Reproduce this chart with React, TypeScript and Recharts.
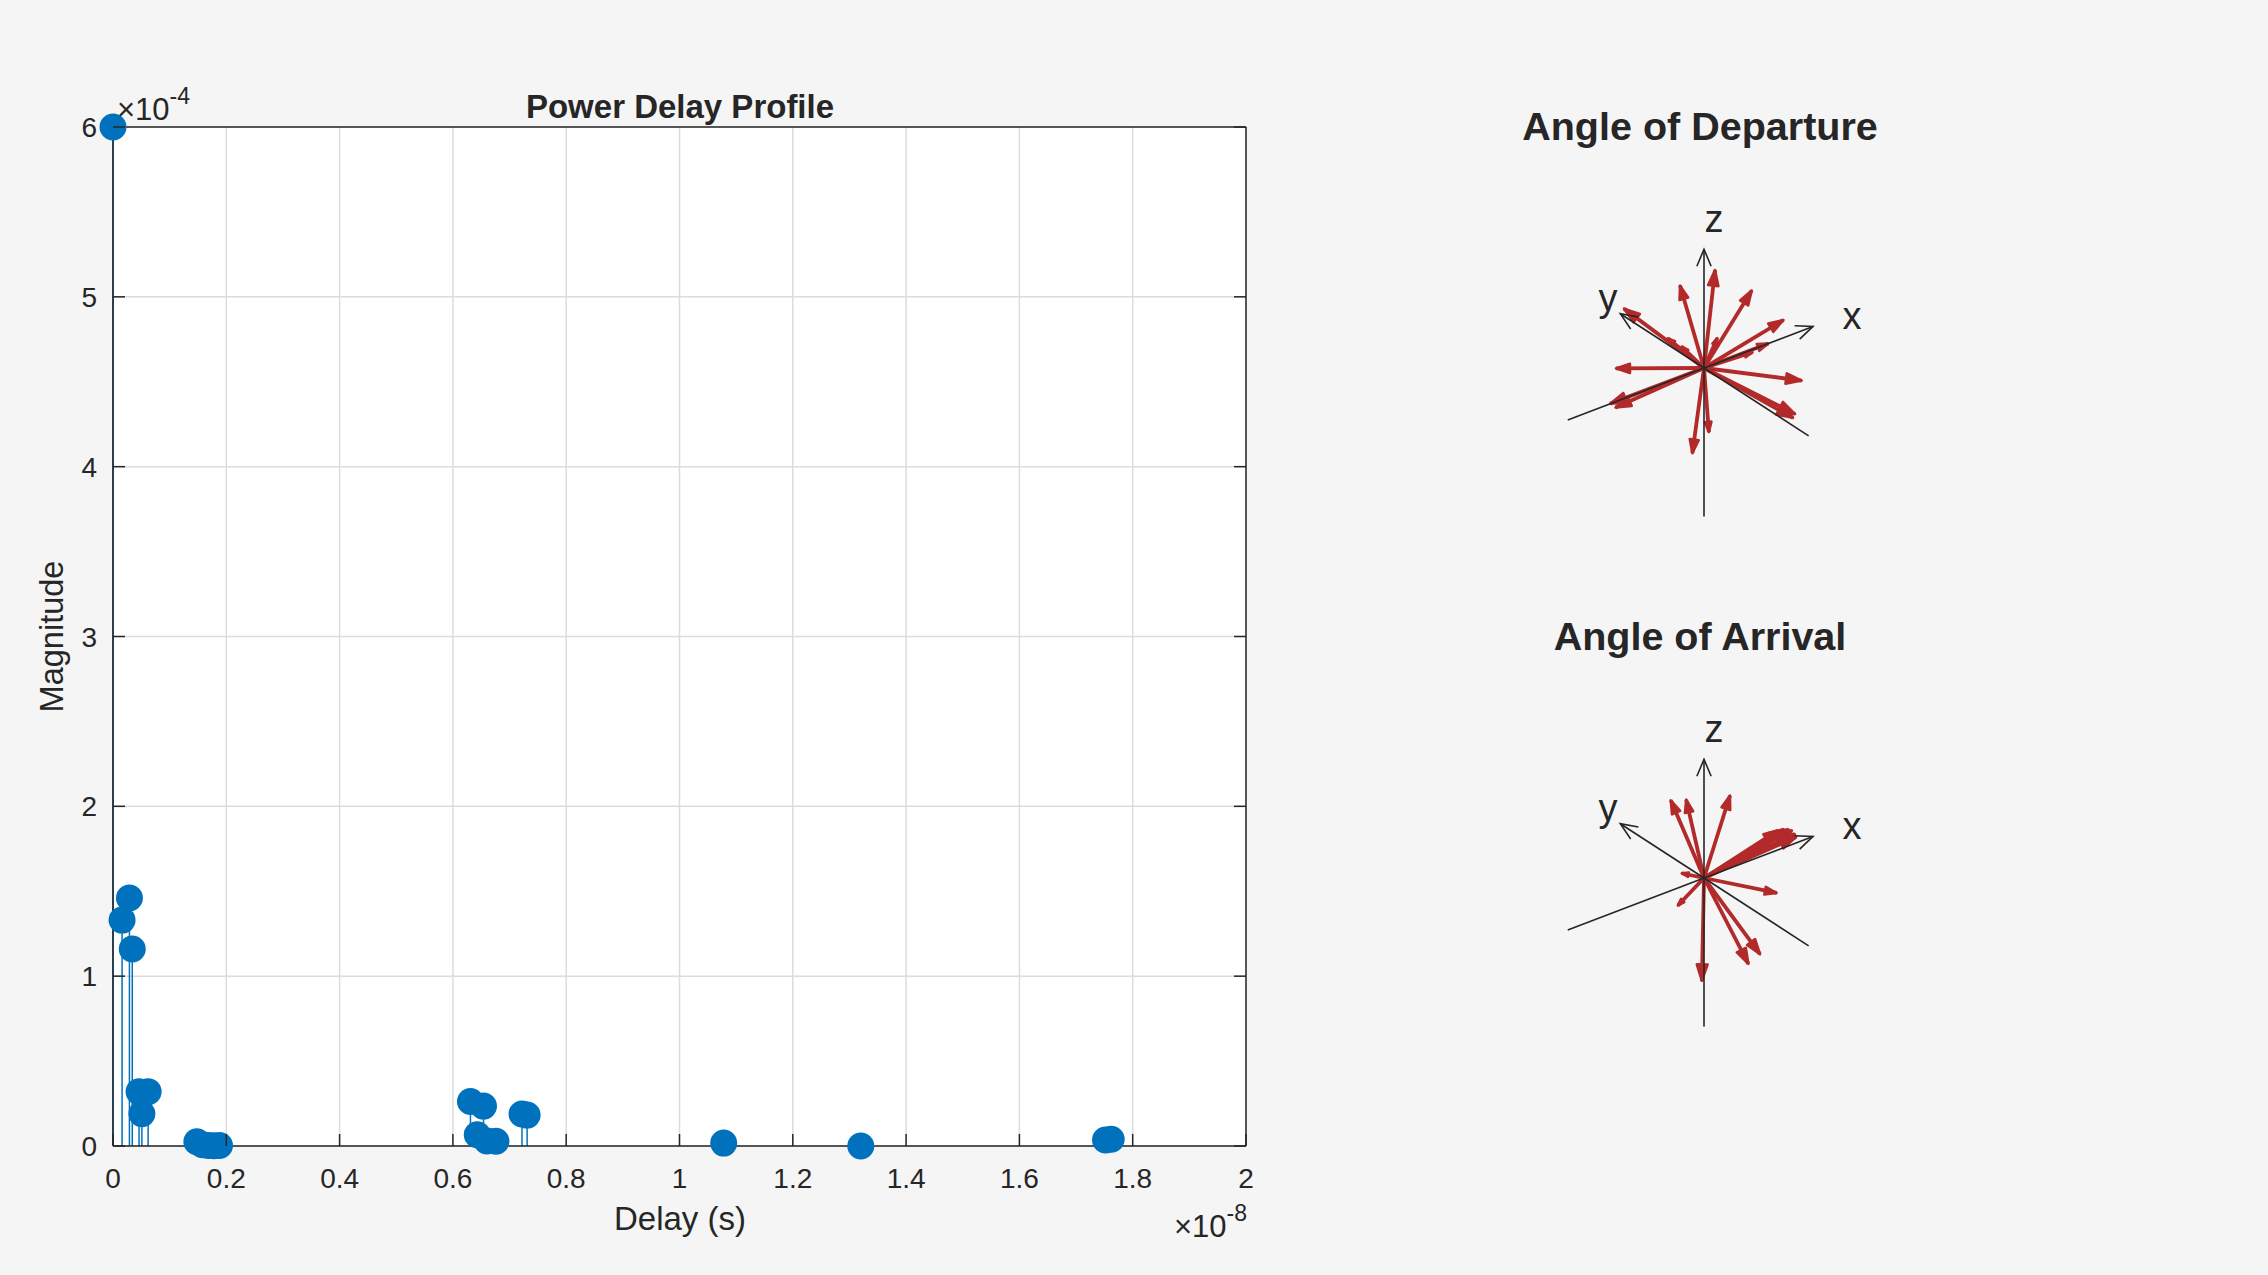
import React from 'react';
import { ComposedChart, Scatter, XAxis, YAxis, CartesianGrid, ReferenceLine } from 'recharts';

const FONT = '"Liberation Sans", Arial, Helvetica, sans-serif';
const INK = '#262626';
const BLUE = '#0072BD';
const RED = '#B32A2A';

// ---- Power delay profile: delay in units of 1e-8 s, magnitude in units of 1e-4 ----
const pdpDelay = [0, 0.016, 0.029, 0.034, 0.046, 0.051, 0.062, 0.148, 0.158, 0.168, 0.178, 0.188,
  0.631, 0.643, 0.654, 0.660, 0.676, 0.722, 0.731, 1.078, 1.320, 1.752, 1.762];
const pdpMagnitude = [6.0, 1.33, 1.46, 1.16, 0.32, 0.19, 0.32, 0.025, 0.008, 0.003, 0.002, 0.003,
  0.262, 0.066, 0.235, 0.030, 0.028, 0.188, 0.182, 0.017, 0.0, 0.035, 0.040];
const delayTicks = [0, 0.2, 0.4, 0.6, 0.8, 1, 1.2, 1.4, 1.6, 1.8, 2];
const magnitudeTicks = [0, 1, 2, 3, 4, 5, 6];

// ---- 3-D view: projection of the unit x, y, z axes onto the screen (right, up) ----
const axisNames = ['x', 'y', 'z'];
const axisBasisU = [0.918, -0.705, 0];
const axisBasisV = [0.350, 0.457, 1.0];
const axisPositiveLength = 1;
const axisNegativeLength = 1.25;
const axisLabelU = [1.246, -0.808, 0.084];
const axisLabelV = [0.330, 0.484, 1.144];

// Angle of departure arrow tips (projected view coordinates)
const aodTipU = [-0.202, 0.093, 0.402, 0.669, 0.112, 0.542, 0.409, 0.823, 0.767, 0.750, 0.041,
  -0.098, -0.742, -0.790, -0.745, -0.674, -0.305, -0.188];
const aodTipV = [0.694, 0.826, 0.652, 0.404, 0.252, 0.206, 0.133, -0.106, -0.388, -0.420, -0.540,
  -0.718, -0.003, -0.300, -0.333, 0.500, 0.250, 0.180];

// Angle of arrival arrow tips (projected view coordinates)
const aoaTipU = [-0.280, -0.150, 0.219, 0.620, 0.670, 0.710, 0.740, 0.765, 0.775, 0.612, -0.188,
  -0.220, -0.018, 0.472, 0.374];
const aoaTipV = [0.655, 0.660, 0.695, 0.400, 0.410, 0.410, 0.400, 0.370, 0.345, -0.126, 0.040,
  -0.232, -0.866, -0.642, -0.723];

const pdpData = pdpDelay.map((d, i) => ({ delay: d, mag: pdpMagnitude[i] }));

function renderBottomTick(p: any) {
  return (
    <g>
      <line x1={p.x} y1={p.y} x2={p.x} y2={p.y - 12} stroke={INK} strokeWidth={1.5} />
      <text x={p.x} y={p.y + 42} textAnchor="middle" fontSize={28} fill={INK} fontFamily={FONT}>
        {String(p.payload.value)}
      </text>
    </g>
  );
}

function renderLeftTick(p: any) {
  return (
    <g>
      <line x1={p.x} y1={p.y} x2={p.x + 12} y2={p.y} stroke={INK} strokeWidth={1.5} />
      <text x={p.x - 16} y={p.y + 10} textAnchor="end" fontSize={28} fill={INK} fontFamily={FONT}>
        {String(p.payload.value)}
      </text>
    </g>
  );
}

const emptyTick = () => <g />;

function makeArrow(color: string, width: number, fixedHead: number | null, filled: boolean) {
  return (props: any) => {
    const { x1, y1, x2, y2 } = props;
    const dx = x2 - x1;
    const dy = y2 - y1;
    const len = Math.hypot(dx, dy) || 1;
    const ux = dx / len;
    const uy = dy / len;
    const hl = fixedHead !== null ? fixedHead : Math.max(7, 0.16 * len);
    const hw = filled ? hl * 0.33 : hl * 0.42;
    const bx = x2 - ux * hl;
    const by = y2 - uy * hl;
    const lx = bx - uy * hw;
    const ly = by + ux * hw;
    const rx = bx + uy * hw;
    const ry = by - ux * hw;
    if (filled) {
      return (
        <g>
          <line x1={x1} y1={y1} x2={x2} y2={y2} stroke={color} strokeWidth={width} />
          <polygon points={`${lx},${ly} ${x2},${y2} ${rx},${ry}`} fill={color} stroke={color}
            strokeWidth={2.5} strokeLinejoin="round" />
        </g>
      );
    }
    return (
      <g>
        <line x1={x1} y1={y1} x2={x2} y2={y2} stroke={color} strokeWidth={width} />
        <polyline points={`${lx},${ly} ${x2},${y2} ${rx},${ry}`} fill="none" stroke={color}
          strokeWidth={width} />
      </g>
    );
  };
}

const redArrow = makeArrow(RED, 3.8, null, true);
const blackArrow = makeArrow(INK, 1.6, 17, false);
const plainLine = (props: any) => (
  <line x1={props.x1} y1={props.y1} x2={props.x2} y2={props.y2} stroke={INK} strokeWidth={1.6} />
);

const labelShape = (p: any) => (
  <text x={p.cx} y={p.cy} textAnchor="middle" fontSize={38} fill={INK} fontFamily={FONT}>
    {p.payload.name}
  </text>
);

// one view unit = 118.75 px; view window u in [-1.6, 1.6], v in [-1.4, 1.6]
function AnglePanel({ tipsU, tipsV, top }: { tipsU: number[]; tipsV: number[]; top: number }) {
  const arrows = tipsU.map((u, i) => ({ u, v: tipsV[i] }));
  const labels = axisNames.map((name, i) => ({ u: axisLabelU[i], v: axisLabelV[i], name }));
  return (
    <div style={{ position: 'absolute', left: 1514, top }}>
      <ComposedChart width={380} height={356.25} margin={{ top: 0, right: 0, bottom: 0, left: 0 }}>
        <XAxis dataKey="u" type="number" domain={[-1.6, 1.6]} allowDataOverflow hide />
        <YAxis dataKey="v" type="number" domain={[-1.4, 1.6]} allowDataOverflow hide />
        {arrows.map((a, i) => (
          <ReferenceLine key={'r' + i} segment={[{ x: 0, y: 0 }, { x: a.u, y: a.v }]}
            ifOverflow="visible" shape={redArrow} />
        ))}
        {axisNames.map((n, i) => (
          <ReferenceLine key={'n' + n} segment={[{ x: 0, y: 0 },
            { x: -axisNegativeLength * axisBasisU[i], y: -axisNegativeLength * axisBasisV[i] }]}
            ifOverflow="visible" shape={plainLine} />
        ))}
        {axisNames.map((n, i) => (
          <ReferenceLine key={'p' + n} segment={[{ x: 0, y: 0 },
            { x: axisPositiveLength * axisBasisU[i], y: axisPositiveLength * axisBasisV[i] }]}
            ifOverflow="visible" shape={blackArrow} />
        ))}
        <Scatter data={labels} dataKey="v" isAnimationActive={false} shape={labelShape} />
      </ComposedChart>
    </div>
  );
}

export default function App() {
  return (
    <div style={{ position: 'absolute', left: 0, top: 0, width: 2268, height: 1275, background: '#f5f5f5',
      overflow: 'hidden', fontFamily: FONT }}>
      <div style={{ position: 'absolute', left: 0, top: 0 }}>
        <ComposedChart width={1300} height={1275} margin={{ top: 127, right: 54, bottom: 69, left: 0 }}>
          <CartesianGrid fill="#ffffff" stroke="#dcdcdc" strokeWidth={1.5} />
          <XAxis dataKey="delay" type="number" domain={[0, 2]} ticks={delayTicks}
            interval={0} tickLine={false} tickSize={0} tickMargin={0} height={60}
            axisLine={{ stroke: INK, strokeWidth: 1.5 }} tick={renderBottomTick} />
          <YAxis dataKey="mag" type="number" domain={[0, 6]} ticks={magnitudeTicks}
            interval={0} width={113} tickLine={false} tickSize={0} tickMargin={0}
            axisLine={{ stroke: INK, strokeWidth: 1.5 }} tick={renderLeftTick} />
          <XAxis xAxisId="top" orientation="top" mirror type="number" domain={[0, 2]} ticks={delayTicks}
            allowDataOverflow interval={0} tickSize={12} tick={emptyTick}
            tickLine={{ stroke: INK, strokeWidth: 1.5 }} axisLine={{ stroke: INK, strokeWidth: 1.5 }} />
          <YAxis yAxisId="right" orientation="right" mirror type="number" domain={[0, 6]}
            ticks={magnitudeTicks} allowDataOverflow interval={0} tickSize={12} tick={emptyTick}
            tickLine={{ stroke: INK, strokeWidth: 1.5 }} axisLine={{ stroke: INK, strokeWidth: 1.5 }} />
          {pdpData.map((p, i) => (
            <ReferenceLine key={'s' + i} segment={[{ x: p.delay, y: 0 }, { x: p.delay, y: p.mag }]}
              ifOverflow="visible" stroke={BLUE} strokeWidth={1.5} />
          ))}
          <Scatter data={pdpData} dataKey="mag" isAnimationActive={false}
            shape={(p: any) => <circle cx={p.cx} cy={p.cy} r={13.5} fill={BLUE} />} />
        </ComposedChart>
      </div>

      <AnglePanel tipsU={aodTipU} tipsV={aodTipV} top={177.5} />
      <AnglePanel tipsU={aoaTipU} tipsV={aoaTipV} top={687.5} />

      <svg width={2268} height={1275} style={{ position: 'absolute', left: 0, top: 0, pointerEvents: 'none' }}
        fontFamily={FONT}>
        <text x={680} y={117.5} textAnchor="middle" fontWeight="bold" fontSize={33} fill={INK}>Power Delay Profile</text>
        <text x={680} y={1230} textAnchor="middle" fontSize={33} fill={INK}>Delay (s)</text>
        <text transform="translate(63,636.5) rotate(-90)" textAnchor="middle" fontSize={32.5} fill={INK}>Magnitude</text>
        <text x={117} y={120} fontSize={31} fill={INK}>×10<tspan dy={-16} fontSize={23}>-4</tspan></text>
        <text x={1247} y={1237} textAnchor="end" fontSize={31} fill={INK}>×10<tspan dy={-16} fontSize={23}>-8</tspan></text>
        <text x={1700} y={140} textAnchor="middle" fontWeight="bold" fontSize={39.5} fill={INK}>Angle of Departure</text>
        <text x={1700} y={650} textAnchor="middle" fontWeight="bold" fontSize={39.5} fill={INK}>Angle of Arrival</text>
      </svg>
    </div>
  );
}
